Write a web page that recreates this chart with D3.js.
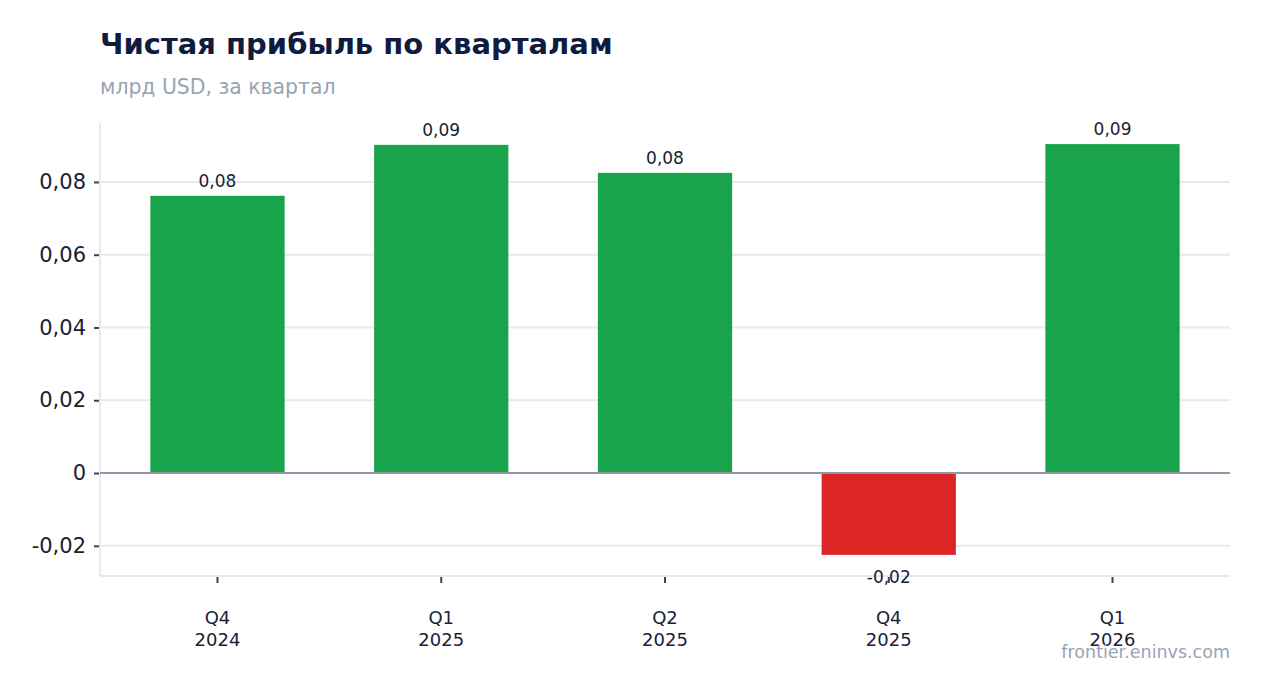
<!DOCTYPE html>
<html>
<head>
<meta charset="utf-8">
<script src="https://cdn.jsdelivr.net/npm/d3@7/dist/d3.min.js"></script>
<style>
  html, body { margin: 0; padding: 0; background: #fff; }
  svg { display: block; font-family: "DejaVu Sans", sans-serif; }
</style>
</head>
<body>
<div id="chart"></div>
<script>
// data
var quarters = ["Q4", "Q1", "Q2", "Q4", "Q1"];
var years = ["2024", "2025", "2025", "2025", "2026"];
var netIncome = [0.0762, 0.0902, 0.0825, -0.0225, 0.0904];
var yTicks = [-0.02, 0, 0.02, 0.04, 0.06, 0.08];

var width = 1262, height = 693;
var margin = {top: 123, right: 32, bottom: 117, left: 100};

var ru = d3.formatLocale({decimal: ",", thousands: " ", grouping: [3], currency: ["", ""], minus: "-"});
var fmt2 = ru.format(".2f");

var svg = d3.select("#chart").append("svg")
    .attr("width", width)
    .attr("height", height);

var keys = quarters.map(function(q, i) { return q + " " + years[i]; });

var x = d3.scaleBand()
    .domain(keys)
    .range([margin.left, width - margin.right])
    .paddingInner(0.4)
    .paddingOuter(0.225);

var y = d3.scaleLinear()
    .domain([-0.0283, 0.0962])
    .range([height - margin.bottom, margin.top]);

// title
svg.append("text")
    .attr("x", 100).attr("y", 54)
    .attr("font-size", 29).attr("font-weight", "bold")
    .attr("fill", "#0f1c40")
    .text("Чистая прибыль по кварталам");

svg.append("text")
    .attr("x", 100).attr("y", 94)
    .attr("font-size", 20.4)
    .attr("fill", "#97a3b6")
    .text("млрд USD, за квартал");

// grid
svg.append("g").selectAll("line")
    .data(yTicks.filter(function(d) { return d !== 0; }))
    .enter().append("line")
    .attr("x1", margin.left).attr("x2", width - margin.right)
    .attr("y1", function(d) { return y(d); }).attr("y2", function(d) { return y(d); })
    .attr("stroke", "#e5e9f0").attr("stroke-width", 2);

// frame: left and bottom
svg.append("line")
    .attr("x1", margin.left).attr("x2", margin.left)
    .attr("y1", margin.top).attr("y2", height - margin.bottom)
    .attr("stroke", "#e5e9f0").attr("stroke-width", 2);
svg.append("line")
    .attr("x1", margin.left).attr("x2", width - margin.right)
    .attr("y1", height - margin.bottom).attr("y2", height - margin.bottom)
    .attr("stroke", "#e5e9f0").attr("stroke-width", 2);

// y axis
var yAxis = svg.append("g")
    .attr("transform", "translate(" + (margin.left - 1) + ",0)")
    .call(d3.axisLeft(y).tickValues(yTicks).tickSize(5).tickPadding(8)
        .tickFormat(function(d) { return d === 0 ? "0" : fmt2(d); }));
yAxis.select(".domain").remove();
yAxis.selectAll(".tick line").attr("stroke", "#3b4252").attr("stroke-width", 2);
yAxis.selectAll(".tick text").attr("font-size", 21).attr("fill", "#1a2233")
    .attr("font-family", "DejaVu Sans, sans-serif");

// bars
svg.append("g").selectAll("rect")
    .data(netIncome)
    .enter().append("rect")
    .attr("x", function(d, i) { return x(keys[i]); })
    .attr("width", x.bandwidth())
    .attr("y", function(d) { return y(Math.max(0, d)); })
    .attr("height", function(d) { return Math.abs(y(d) - y(0)); })
    .attr("fill", function(d) { return d >= 0 ? "#19a34a" : "#dc2626"; });

// zero line
svg.append("line")
    .attr("x1", margin.left).attr("x2", width - margin.right)
    .attr("y1", y(0)).attr("y2", y(0))
    .attr("stroke", "#8d99ab").attr("stroke-width", 2);

// value labels
svg.append("g").selectAll("text")
    .data(netIncome)
    .enter().append("text")
    .attr("x", function(d, i) { return x(keys[i]) + x.bandwidth() / 2; })
    .attr("y", function(d) { return d >= 0 ? y(d) - 9 : y(d) + 28; })
    .attr("text-anchor", "middle")
    .attr("font-size", 17)
    .attr("fill", "#1a2233")
    .text(function(d) { return fmt2(d); });

// x axis
var xAxis = svg.append("g")
    .attr("transform", "translate(0," + (height - margin.bottom + 1) + ")")
    .call(d3.axisBottom(x).tickSize(6).tickFormat(""));
xAxis.select(".domain").remove();
xAxis.selectAll(".tick line").attr("stroke", "#3b4252").attr("stroke-width", 2);

var xl = svg.append("g").selectAll("text")
    .data(keys)
    .enter().append("text")
    .attr("x", function(d) { return x(d) + x.bandwidth() / 2; })
    .attr("y", 624)
    .attr("text-anchor", "middle")
    .attr("font-size", 18)
    .attr("fill", "#1a2233");
xl.append("tspan")
    .attr("x", function(d) { return x(d) + x.bandwidth() / 2; })
    .text(function(d, i) { return quarters[i]; });
xl.append("tspan")
    .attr("x", function(d) { return x(d) + x.bandwidth() / 2; })
    .attr("dy", 22)
    .text(function(d, i) { return years[i]; });

// watermark
svg.append("text")
    .attr("x", 1230).attr("y", 658)
    .attr("text-anchor", "end")
    .attr("font-size", 17.5)
    .attr("fill", "#97a3b6")
    .text("frontier.eninvs.com");
</script>
</body>
</html>
